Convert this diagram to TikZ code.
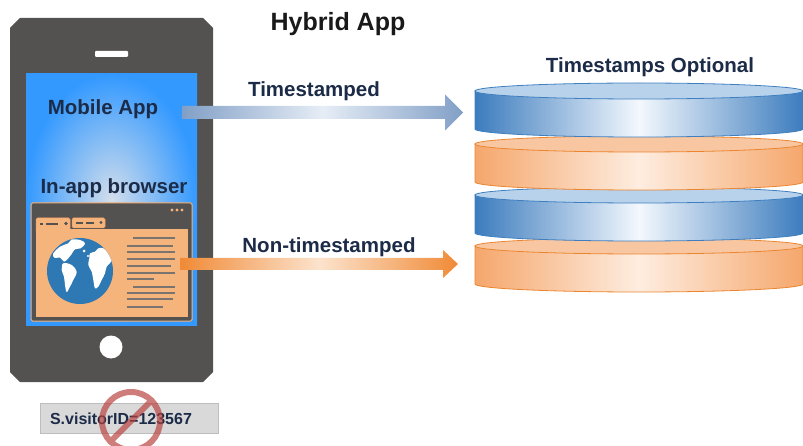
\documentclass[tikz,border=0pt]{standalone}
\usepackage{fontspec}
\setmainfont{Liberation Sans}
\usetikzlibrary{calc}

\definecolor{phonegray}{HTML}{545250}
\definecolor{screenblue}{HTML}{3399FF}
\definecolor{screenlight}{HTML}{D3DEEB}
\definecolor{peach}{HTML}{F6B47D}
\definecolor{peachedge}{HTML}{F2A060}
\definecolor{globeblue}{HTML}{2E78B4}
\definecolor{textgray}{HTML}{7A7470}
\definecolor{navy}{HTML}{1C2B47}
\definecolor{arrowblue}{HTML}{819FC6}
\definecolor{arrowbluelight}{HTML}{E6EDF6}
\definecolor{arroworange}{HTML}{F08A36}
\definecolor{arroworangelight}{HTML}{FCE3CD}
\definecolor{diskblue}{HTML}{3C7CBE}
\definecolor{diskbluemid}{HTML}{F3F8FD}
\definecolor{diskblueface}{HTML}{B8D2EB}
\definecolor{diskblueedge}{HTML}{3F7FC0}
\definecolor{diskorange}{HTML}{F5A76C}
\definecolor{diskorangemid}{HTML}{FEEDE0}
\definecolor{diskorangeface}{HTML}{F8C7A2}
\definecolor{diskorangeedge}{HTML}{EC8530}
\definecolor{idbox}{HTML}{D9D9D9}
\definecolor{idboxedge}{HTML}{BDBDBD}
\definecolor{banred}{HTML}{B8403C}

% one disk of the stack: #1 top-centre y, #2 side colour, #3 side highlight, #4 top face, #5 outline
\newcommand\stackdisk[5]{%
  \shadedraw[left color=#2, right color=#2, middle color=#3, draw=#5, line width=0.8pt]
    (475,#1) -- (475,#1+38)
    arc[start angle=180, end angle=360, x radius=164pt, y radius=8pt]
    -- (803,#1) -- cycle;
  \filldraw[fill=#4, draw=#5, line width=0.8pt] (639,#1) ellipse[x radius=164pt, y radius=8pt];
}

\begin{document}
\begin{tikzpicture}[x=1pt, y=-1pt,
  label/.style={font=\fontsize{20.5}{24}\selectfont\bfseries, text=navy, inner sep=0pt, anchor=base},
  titletext/.style={font=\fontsize{25}{29}\selectfont\bfseries, text=black!90, inner sep=0pt, anchor=base},
  textline/.style={textgray, line width=1.6pt},
  land/.style={fill=white, draw=none}
]
\useasboundingbox (0,0) rectangle (803,446);
\clip (0,0) rectangle (803,446);

% ---------- phone ----------
\fill[phonegray] (20,18) -- (203,18) -- (213,28) -- (213,372) -- (203,382)
  -- (20,382) -- (10,372) -- (10,28) -- cycle;
\fill[white, rounded corners=1pt] (95,51) rectangle (128,57);
\fill[white] (111,347) circle[radius=11.5pt];

% screen with radial highlight
\shade[inner color=screenlight, outer color=screenblue] (26,74) rectangle (197,325);

\node[label] (mobile) at (103,115) {Mobile App};
\node[label] (inapp) at (114,194) {In-app browser};

% ---------- in-app browser window ----------
\filldraw[fill=phonegray, draw=peach, line width=1pt, rounded corners=1.5pt] (31,203) rectangle (192,321);
\foreach \dx in {172,177,182} \fill[peach] (\dx,210) circle[radius=1.6pt];
% tabs
\filldraw[fill=peach, draw=peachedge, line width=0.5pt, rounded corners=1.5pt] (36,231) -- (36,218) -- (70,218) -- (70,231);
\filldraw[fill=peach, draw=peachedge, line width=0.5pt, rounded corners=1.5pt] (72,228) -- (72,218) -- (105,218) -- (105,228) -- cycle;
\draw[phonegray, line width=1.2pt] (40,224) -- (43,224) (46,224) -- (58,224);
\fill[phonegray] (66,223.5) circle[radius=1.8pt];
\draw[phonegray, line width=1.2pt] (76,223) -- (83,223) (86,223) -- (94,223);
\fill[phonegray] (101,222.5) circle[radius=1.6pt];
% page content
\fill[peach] (36,229) rectangle (188,317);

% globe
\begin{scope}[shift={(80,271)}]
  \fill[globeblue] (0,0) circle[radius=33pt];
  \clip (0,0) circle[radius=33pt];
  \fill[land] plot[smooth cycle, tension=0.6] coordinates {
    (-27,-17) (-20,-24.3) (-11.7,-27.7) (-8.3,-31.5) (0,-31) (5,-27.7) (0.7,-22.7)
    (-5,-21.7) (-8.3,-17) (-11.7,-12.7) (-16,-9.3) (-20,-13.5) (-25,-13)};
  \fill[land] plot[smooth cycle, tension=0.6] coordinates {
    (-16.7,-7.7) (-8.3,-6) (-3.3,0.7) (-6.7,9) (-10,15.7) (-13.3,21) (-15,14)
    (-16,5.7) (-18.3,-1)};
  \fill[land] plot[smooth cycle, tension=0.6] coordinates {
    (10,-17.7) (15,-19.3) (18.3,-22.7) (23.3,-22.7) (28.3,-17.7) (32,-11) (26.7,-4.3)
    (25,2.3) (21.7,9) (18.3,15.7) (15,17.3) (13.3,9) (11.7,0.7) (8.3,-6) (9.3,-12.7)};
  \fill[land] (4,-20) circle[radius=1.5pt] (8,-15) circle[radius=1.2pt];
\end{scope}

% text lines of the page
\foreach \y/\xa/\xb in {238/133/175, 246/127/173, 252/127/175, 259/127/175,
  266/127/171, 273/127/175, 279/127/154, 287/133/175, 293/127/175, 299/127/173, 307/127/163}
  \draw[textline] (\xa,\y) -- (\xb,\y);

% ---------- visitor id with ban sign ----------
\node[draw=idboxedge, fill=idbox, line width=0.8pt, minimum width=178pt, minimum height=30pt,
  inner sep=0pt] (idfield) at (129,418) {};
\node[font=\fontsize{16}{19}\selectfont\bfseries, text=navy, inner sep=0pt, anchor=base]
  (idtext) at (121,424) {S.visitorID=123567};
\coordinate (ban) at (131,421);
\begin{scope}[transparency group, opacity=0.68]
  \draw[banred, line width=6pt] (ban) circle[radius=29pt];
  \draw[banred, line width=6pt] ($(ban)+(45:29pt)$) -- ($(ban)+(225:29pt)$);
\end{scope}

% ---------- title ----------
\node[titletext] (title) at (338,31) {Hybrid App};

% ---------- disk stack ----------
\stackdisk{246}{diskorange}{diskorangemid}{diskorangeface}{diskorangeedge}
\stackdisk{195}{diskblue}{diskbluemid}{diskblueface}{diskblueedge}
\stackdisk{144}{diskorange}{diskorangemid}{diskorangeface}{diskorangeedge}
\stackdisk{91}{diskblue}{diskbluemid}{diskblueface}{diskblueedge}
\coordinate (stacktop) at (475,112.5);
\coordinate (stacklow) at (475,264);
\node[label] (optional) at (650,73) {Timestamps Optional};

% ---------- arrows ----------
\coordinate (appout) at (182,112.5);
\coordinate (webout) at (180,264);
\shade[left color=arrowblue, right color=arrowblue, middle color=arrowbluelight]
  ($(appout)+(0,-6.5)$) -- ($(stacktop)+(-30,-6.5)$) -- ($(stacktop)+(-30,-18)$)
  -- ($(stacktop)+(-12,0)$) -- ($(stacktop)+(-30,18)$) -- ($(stacktop)+(-30,6.5)$)
  -- ($(appout)+(0,6.5)$) -- cycle;
\shade[left color=arroworange, right color=arroworange, middle color=arroworangelight]
  ($(webout)+(0,-6)$) -- ($(stacklow)+(-32,-6)$) -- ($(stacklow)+(-32,-14)$)
  -- ($(stacklow)+(-17,0)$) -- ($(stacklow)+(-32,14)$) -- ($(stacklow)+(-32,6)$)
  -- ($(webout)+(0,6)$) -- cycle;
\node[label] (ts) at (314,97) {Timestamped};
\node[label] (nts) at (329,253) {Non-timestamped};
\end{tikzpicture}
\end{document}
